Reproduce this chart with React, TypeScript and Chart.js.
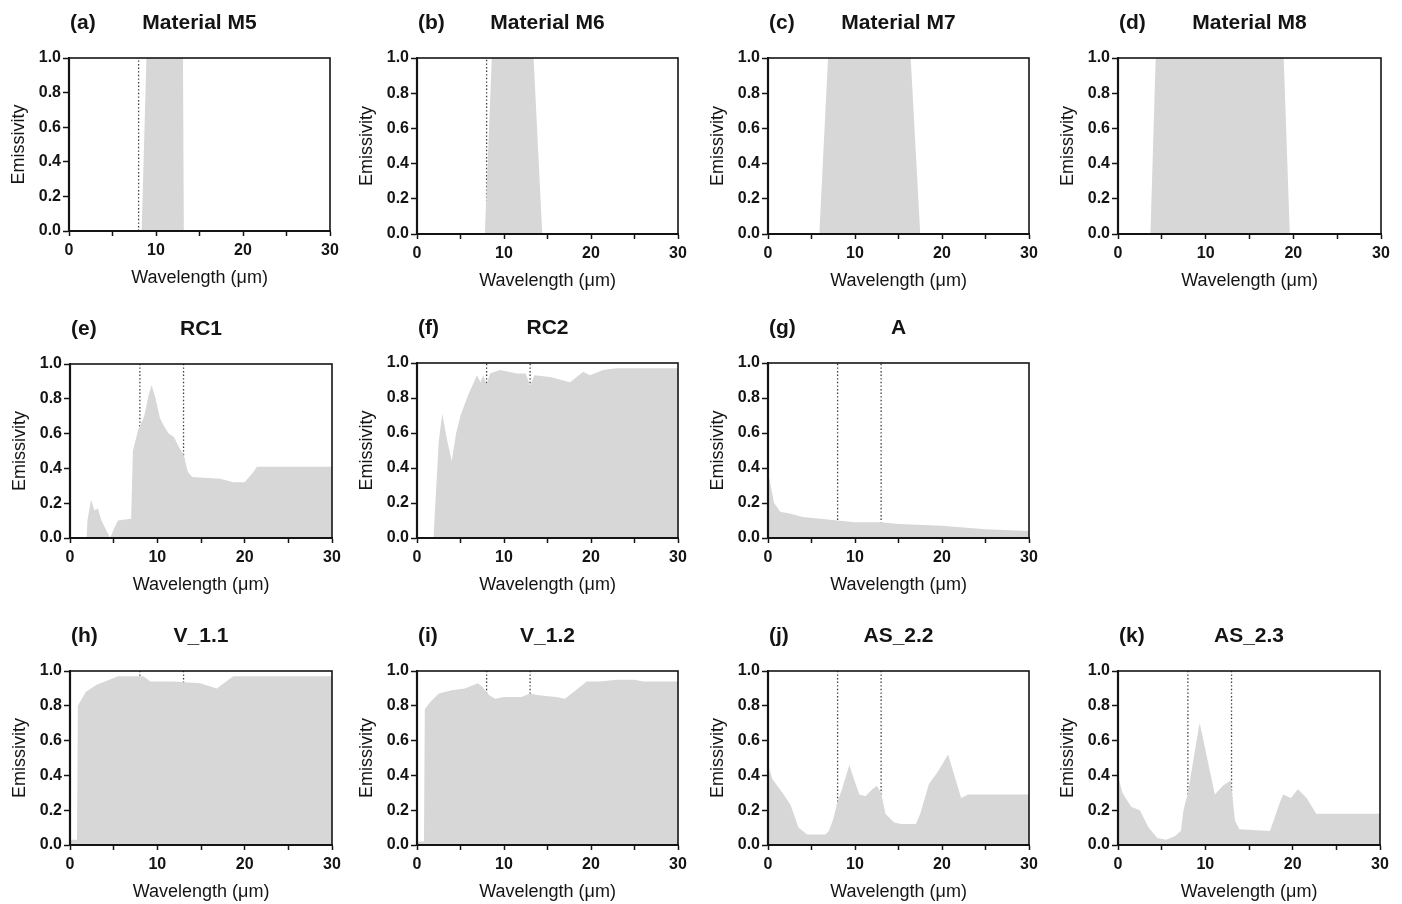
import React, { useEffect, useRef } from "react";
import { Chart, registerables } from "chart.js";

Chart.register(...registerables);

// ---------- data (wavelength in µm, emissivity) ----------
const m5X = [0, 8.35, 8.9, 13.1, 13.2, 30];
const m5Y = [0, 0, 1, 1, 0, 0];

const m6X = [0, 7.8, 8.6, 13.4, 14.4, 30];
const m6Y = [0, 0, 1, 1, 0, 0];

const m7X = [0, 5.9, 6.9, 16.4, 17.5, 30];
const m7Y = [0, 0, 1, 1, 0, 0];

const m8X = [0, 3.7, 4.3, 18.9, 19.6, 30];
const m8Y = [0, 0, 1, 1, 0, 0];

const rc1X = [0, 1.9, 2.0, 2.4, 2.8, 3.2, 3.6, 4.6, 5.0, 5.5, 7.0, 7.2, 7.8, 8.5, 9.0, 9.35, 9.8, 10.3, 10.8, 11.3, 11.9, 12.5, 13.0, 13.5, 14.0, 17.2, 18.7, 20.0, 21.0, 21.4, 30];
const rc1Y = [0, 0, 0.1, 0.22, 0.16, 0.17, 0.1, 0, 0.05, 0.1, 0.11, 0.5, 0.62, 0.7, 0.82, 0.88, 0.8, 0.69, 0.64, 0.6, 0.58, 0.52, 0.48, 0.38, 0.35, 0.34, 0.32, 0.32, 0.38, 0.41, 0.41];

const rc2X = [0, 1.9, 2.0, 2.5, 2.9, 3.5, 4.0, 4.5, 5.0, 5.9, 6.9, 7.3, 7.6, 8.0, 8.4, 9.5, 11.5, 12.5, 13.0, 13.5, 15.3, 17.6, 19.1, 19.9, 21.4, 22.9, 30];
const rc2Y = [0, 0, 0.1, 0.55, 0.71, 0.55, 0.44, 0.6, 0.7, 0.82, 0.93, 0.89, 0.93, 0.88, 0.94, 0.96, 0.94, 0.94, 0.87, 0.93, 0.92, 0.89, 0.95, 0.93, 0.96, 0.97, 0.97];

const aX = [0, 0.3, 0.7, 1.4, 2.5, 4, 6, 8, 10, 13, 15, 20, 25, 30];
const aY = [0.38, 0.3, 0.2, 0.15, 0.14, 0.12, 0.11, 0.1, 0.09, 0.09, 0.08, 0.07, 0.05, 0.04];

const v11X = [0, 0.8, 0.9, 1.8, 3, 4.5, 5.5, 7.5, 8.4, 9.2, 11.8, 14.9, 16.8, 18.7, 20, 30];
const v11Y = [0.03, 0.03, 0.8, 0.88, 0.92, 0.95, 0.97, 0.97, 0.97, 0.94, 0.94, 0.93, 0.9, 0.97, 0.97, 0.97];

const v12X = [0, 0.8, 0.9, 1.5, 2.5, 4, 5.5, 7, 7.5, 8.3, 9, 10, 12, 13, 14, 16, 17, 18, 19.5, 21, 23, 25, 26, 30];
const v12Y = [0.02, 0.02, 0.78, 0.82, 0.87, 0.89, 0.9, 0.93, 0.91, 0.86, 0.84, 0.85, 0.85, 0.87, 0.86, 0.85, 0.84, 0.88, 0.94, 0.94, 0.95, 0.95, 0.94, 0.94];

const as22X = [0, 0.5, 1.8, 2.6, 3.5, 4.5, 5.4, 6.6, 7.0, 7.5, 8.0, 8.5, 9.35, 10.0, 10.5, 11.2, 12.0, 12.5, 13.0, 13.5, 14.5, 15.3, 17.0, 17.5, 18.5, 19.5, 20.7, 21.3, 22.2, 23.0, 30];
const as22Y = [0.46, 0.38, 0.29, 0.23, 0.1, 0.06, 0.06, 0.06, 0.08, 0.15, 0.25, 0.32, 0.46, 0.36, 0.29, 0.28, 0.32, 0.34, 0.3, 0.18, 0.13, 0.12, 0.12, 0.18, 0.35, 0.42, 0.52, 0.42, 0.27, 0.29, 0.29];

const as23X = [0, 0.5, 1.5, 2.5, 3.5, 4.5, 5.5, 6.5, 7.2, 7.5, 8.0, 8.5, 9.0, 9.35, 9.7, 10.5, 11.1, 12.0, 12.9, 13.4, 13.9, 17.4, 18.5, 18.9, 19.8, 20.6, 21.6, 22.7, 30];
const as23Y = [0.4, 0.3, 0.22, 0.2, 0.1, 0.04, 0.03, 0.05, 0.08, 0.2, 0.3, 0.45, 0.6, 0.7, 0.62, 0.43, 0.29, 0.34, 0.37, 0.14, 0.09, 0.08, 0.24, 0.29, 0.27, 0.32, 0.27, 0.18, 0.18];

// atmospheric window markers (µm)
const windowLines = [8, 13];
const xTickLabels = [0, 10, 20, 30];

// ---------- layout / style ----------
const FONT = "'Liberation Sans', Arial, Helvetica, sans-serif";
const FILL = "#d7d7d7";
const INK = "#141414";

type Panel = { tag: string; title: string; xs: number[]; ys: number[]; box: [number, number, number, number] };

const PANELS: Panel[] = [
  { tag: "(a)", title: "Material M5", xs: m5X, ys: m5Y, box: [69, 58, 330, 231] },
  { tag: "(b)", title: "Material M6", xs: m6X, ys: m6Y, box: [417, 58, 678, 234] },
  { tag: "(c)", title: "Material M7", xs: m7X, ys: m7Y, box: [768, 58, 1029, 234] },
  { tag: "(d)", title: "Material M8", xs: m8X, ys: m8Y, box: [1118, 58, 1381, 234] },
  { tag: "(e)", title: "RC1", xs: rc1X, ys: rc1Y, box: [70, 364, 332, 538] },
  { tag: "(f)", title: "RC2", xs: rc2X, ys: rc2Y, box: [417, 363, 678, 538] },
  { tag: "(g)", title: "A", xs: aX, ys: aY, box: [768, 363, 1029, 538] },
  { tag: "(h)", title: "V_1.1", xs: v11X, ys: v11Y, box: [70, 671, 332, 845] },
  { tag: "(i)", title: "V_1.2", xs: v12X, ys: v12Y, box: [417, 671, 678, 845] },
  { tag: "(j)", title: "AS_2.2", xs: as22X, ys: as22Y, box: [768, 671, 1029, 845] },
  { tag: "(k)", title: "AS_2.3", xs: as23X, ys: as23Y, box: [1118, 671, 1380, 845] },
];

const PAD_L = 70;
const PAD_T = 58;
const PAD_R = 21;
const PAD_B = 70;

function PanelChart({ p }: { p: Panel }) {
  const ref = useRef<HTMLCanvasElement | null>(null);
  const [l, t, r, b] = p.box;
  const w = r - l + PAD_L + PAD_R;
  const h = b - t + PAD_T + PAD_B;

  useEffect(() => {
    if (!ref.current) return;
    const pts = p.xs.map((x, i) => ({ x, y: p.ys[i] }));
    const lineSets = windowLines.map((wl) => ({
      data: [
        { x: wl, y: 0 },
        { x: wl, y: 1 },
      ],
      borderColor: "#3a3a3a",
      borderDash: [1.4, 2.2],
      borderWidth: 1.3,
      pointRadius: 0,
      fill: false,
    }));

    const decor = {
      id: "decor",
      afterDatasetsDraw(chart: any) {
        const { ctx, chartArea: ca } = chart;
        ctx.save();
        ctx.strokeStyle = INK;
        ctx.lineWidth = 1.6;
        ctx.strokeRect(ca.left, ca.top, ca.right - ca.left, ca.bottom - ca.top);
        ctx.lineWidth = 2.2;
        ctx.beginPath();
        ctx.moveTo(ca.left, ca.top);
        ctx.lineTo(ca.left, ca.bottom);
        ctx.lineTo(ca.right, ca.bottom);
        ctx.stroke();
        ctx.restore();
      },
      afterDraw(chart: any) {
        const { ctx, chartArea: ca } = chart;
        ctx.save();
        ctx.fillStyle = INK;
        ctx.font = `bold 21px ${FONT}`;
        ctx.textBaseline = "middle";
        ctx.textAlign = "left";
        ctx.fillText(p.tag, ca.left + 1, ca.top - 35);
        ctx.textAlign = "center";
        ctx.fillText(p.title, (ca.left + ca.right) / 2, ca.top - 35);
        ctx.restore();
      },
    };

    const chart = new Chart(ref.current, {
      type: "line",
      data: {
        datasets: [
          {
            data: pts,
            fill: "origin",
            backgroundColor: FILL,
            borderColor: "rgba(0,0,0,0)",
            borderWidth: 0,
            pointRadius: 0,
            tension: 0,
          },
          ...lineSets,
        ],
      } as any,
      options: {
        animation: false,
        responsive: false,
        maintainAspectRatio: false,
        devicePixelRatio: 1,
        layout: { padding: { left: 0, top: PAD_T, right: PAD_R, bottom: 0 } },
        plugins: { legend: { display: false }, tooltip: { enabled: false }, title: { display: false } },
        scales: {
          x: {
            type: "linear",
            min: 0,
            max: 30,
            afterFit: (s: any) => {
              s.height = PAD_B;
            },
            ticks: {
              stepSize: 5,
              autoSkip: false,
              maxRotation: 0,
              padding: 5,
              color: INK,
              font: { family: FONT, size: 16, weight: "bold" },
              callback: (v: any) => (xTickLabels.includes(Number(v)) ? String(v) : ""),
            },
            grid: { drawOnChartArea: false, drawTicks: true, tickLength: 5, color: INK, tickWidth: 1.5 },
            border: { display: true, color: INK, width: 2 },
            title: {
              display: true,
              text: "Wavelength (\u03bcm)",
              color: INK,
              font: { family: FONT, size: 18, weight: "normal" },
              padding: { top: 0, bottom: 12 },
            },
          },
          y: {
            type: "linear",
            min: 0,
            max: 1,
            afterFit: (s: any) => {
              s.width = PAD_L;
            },
            ticks: {
              stepSize: 0.2,
              padding: 2,
              color: INK,
              font: { family: FONT, size: 16, weight: "bold" },
              callback: (v: any) => Number(v).toFixed(1),
            },
            grid: { drawOnChartArea: false, drawTicks: true, tickLength: 6, color: INK, tickWidth: 1.5 },
            border: { display: true, color: INK, width: 2 },
            title: {
              display: true,
              text: "Emissivity",
              color: INK,
              font: { family: FONT, size: 18, weight: "normal" },
              padding: { top: 9, bottom: 0 },
            },
          },
        },
      } as any,
      plugins: [decor],
    });
    return () => chart.destroy();
  }, [p]);

  return (
    <canvas
      ref={ref}
      width={w}
      height={h}
      style={{ position: "absolute", left: l - PAD_L, top: t - PAD_T, width: w, height: h }}
    />
  );
}

export default function App() {
  return (
    <div
      style={{
        position: "fixed",
        left: 0,
        top: 0,
        width: 1402,
        height: 904,
        background: "#ffffff",
        overflow: "hidden",
      }}
    >
      {PANELS.map((p) => (
        <PanelChart key={p.tag} p={p} />
      ))}
    </div>
  );
}
